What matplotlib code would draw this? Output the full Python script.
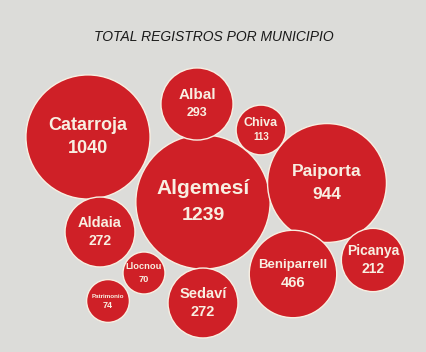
import numpy as np
import matplotlib
matplotlib.use("Agg")
import matplotlib.pyplot as plt
from matplotlib.patches import Circle

# data
municipios = ["Algemesí", "Catarroja", "Paiporta", "Beniparrell", "Albal",
              "Aldaia", "Sedaví", "Picanya", "Chiva", "Patrimonio", "Llocnou"]
registros = [1239, 1040, 944, 466, 293, 272, 272, 212, 113, 74, 70]

# layout (bubble centres in pixels) and label sizes
cx = [203, 88, 327, 293, 197, 100, 203, 373, 261, 108, 144]
cy = [202, 137, 183, 274, 104, 232, 303, 260, 130, 301, 273]
fs_name = [15, 13, 12.5, 9.5, 11, 10.5, 10.5, 10, 9, 4.5, 6.7]
fs_num = [14, 13, 12.5, 10.5, 9, 10, 10.5, 10, 7, 6.5, 6.7]

bg = "#dcdcd9"
red = "#cf2027"
cream = "#f8efe2"

fig = plt.figure(figsize=(4.26, 3.52), dpi=100, facecolor=bg)
ax = fig.add_axes([0, 0, 1, 1])
ax.set_facecolor(bg)
ax.set_xlim(0, 426)
ax.set_ylim(352, 0)
ax.set_aspect("equal")
ax.axis("off")

for i in range(len(municipios)):
    r = 6.6 + 1.72 * np.sqrt(registros[i])
    ax.add_patch(Circle((cx[i], cy[i]), r, facecolor=red, edgecolor=cream, lw=1.0))
    gap = 0.9 * (fs_name[i] + fs_num[i]) / 2
    ax.text(cx[i], cy[i] - gap, municipios[i], ha="center", va="center",
            color=cream, fontsize=fs_name[i], fontweight="bold", family="Liberation Sans")
    ax.text(cx[i], cy[i] + gap, str(registros[i]), ha="center", va="center",
            color=cream, fontsize=fs_num[i], fontweight="bold", family="Liberation Sans")

ax.text(214, 37, "TOTAL REGISTROS POR MUNICIPIO", ha="center", va="center",
        fontsize=10, style="italic", color="#1a1a1a", family="Liberation Sans")

fig.savefig("out.png", dpi=100, facecolor=bg)
